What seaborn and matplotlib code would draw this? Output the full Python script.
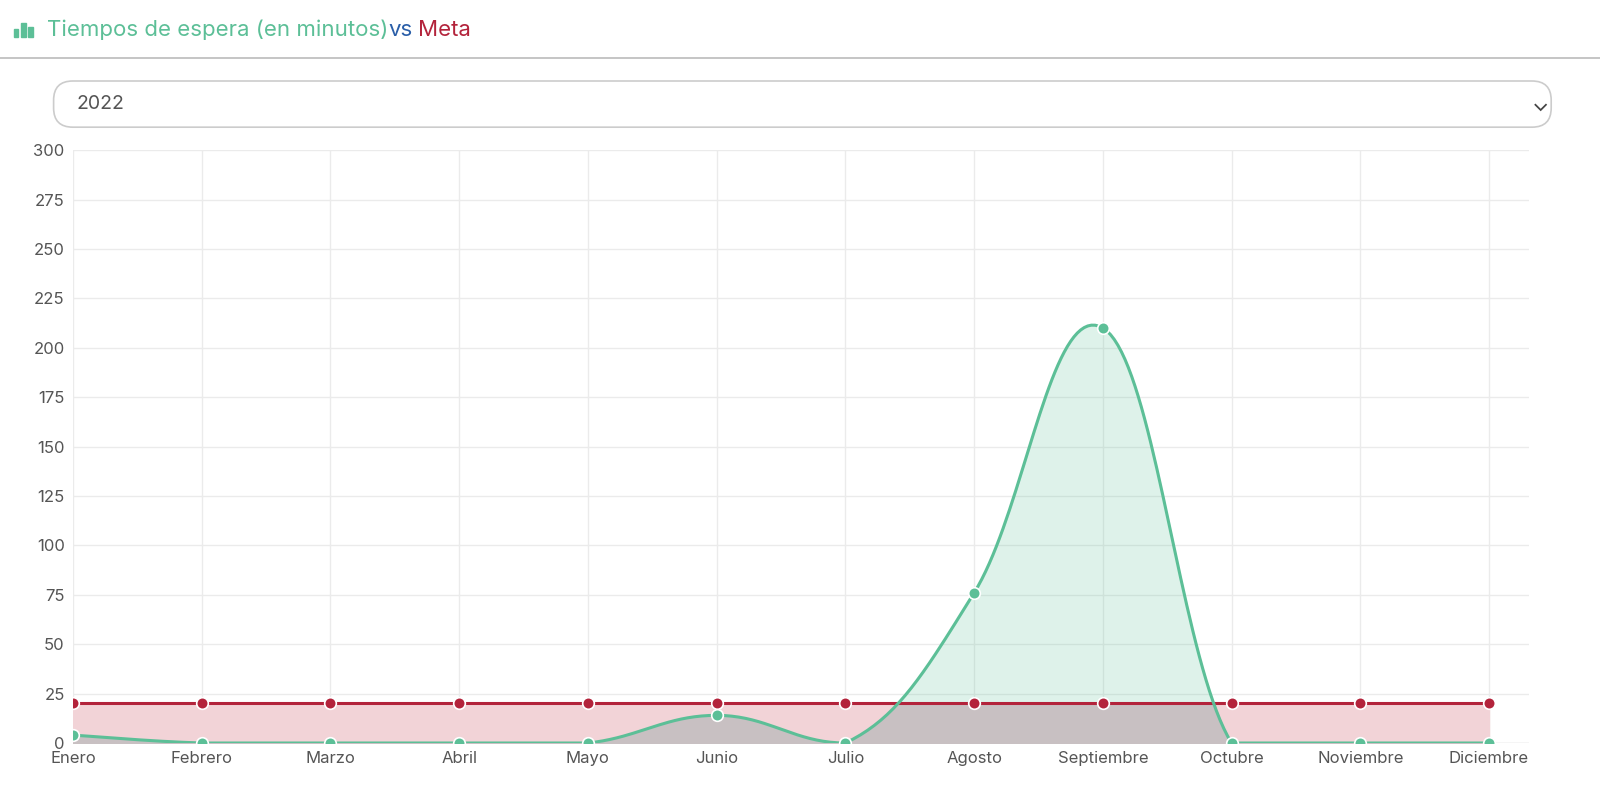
import numpy as np
import pandas as pd
import matplotlib
matplotlib.use('Agg')
import matplotlib.pyplot as plt
import seaborn as sns
from matplotlib.patches import FancyBboxPatch, Rectangle

meses = ['Enero', 'Febrero', 'Marzo', 'Abril', 'Mayo', 'Junio', 'Julio',
         'Agosto', 'Septiembre', 'Octubre', 'Noviembre', 'Diciembre']
tiempos = [4, 0, 0, 0, 0, 14, 0, 76, 210, 0, 0, 0]
meta = [20] * 12

VERDE = '#5cbf97'
ROJO = '#b3233b'


def curva_suave(y, tension=0.4, n=40):
    """Curva bezier estilo Chart.js (tension 0.4)"""
    x = np.arange(len(y), dtype=float)
    y = np.asarray(y, dtype=float)
    xs, ys = [], []
    for i in range(len(y) - 1):
        p0 = (x[i], y[i]); p3 = (x[i + 1], y[i + 1])
        prev = (x[i - 1], y[i - 1]) if i > 0 else p0
        nxt = (x[i + 2], y[i + 2]) if i + 2 < len(y) else p3
        c1 = (p0[0] + tension * (p3[0] - prev[0]) / 2, max(0, p0[1] + tension * (p3[1] - prev[1]) / 2))
        c2 = (p3[0] - tension * (nxt[0] - p0[0]) / 2, max(0, p3[1] - tension * (nxt[1] - p0[1]) / 2))
        t = np.linspace(0, 1, n)
        bx = (1-t)**3*p0[0] + 3*(1-t)**2*t*c1[0] + 3*(1-t)*t**2*c2[0] + t**3*p3[0]
        by = (1-t)**3*p0[1] + 3*(1-t)**2*t*c1[1] + 3*(1-t)*t**2*c2[1] + t**3*p3[1]
        xs.extend(bx); ys.extend(by)
    return np.array(xs), np.clip(np.array(ys), 0, None)


sns.set_theme(style='white')
plt.rcParams['font.family'] = ['Inter', 'DejaVu Sans']

fig = plt.figure(figsize=(16, 8.1), dpi=100)
ax = fig.add_axes([0.0456, 0.0827, 0.91, 0.732])

sx, sy = curva_suave(tiempos)
df_suave = pd.DataFrame({'x': sx, 'y': sy})
df_meta = pd.DataFrame({'x': np.arange(12), 'y': meta})

ax.fill_between(df_meta['x'], df_meta['y'], 0, color='#f2d3d7', zorder=1)
ax.fill_between(df_suave['x'], df_suave['y'], 0, color=VERDE, alpha=0.2, zorder=2)
ax.fill_between(df_suave['x'], np.minimum(df_suave['y'], 20), 0, color='#c8c0c2', zorder=2)

sns.lineplot(data=df_meta, x='x', y='y', color=ROJO, lw=2.2, ax=ax, zorder=3)
sns.lineplot(data=df_suave, x='x', y='y', color=VERDE, lw=2.2, ax=ax, zorder=4, sort=False)
ax.scatter(np.arange(12), meta, s=70, color=ROJO, edgecolor='white', lw=1.2, zorder=5)
ax.scatter(np.arange(12), tiempos, s=70, color=VERDE, edgecolor='white', lw=1.2, zorder=6)

ax.set_xlim(0, 11.31)
ax.set_ylim(0, 300)
ax.set_xticks(range(12))
ax.set_xticklabels(meses, fontsize=12, color='#555555')
ax.set_yticks(range(0, 301, 25))
ax.set_yticklabels([str(v) for v in range(0, 301, 25)], fontsize=12, color='#555555')
ax.tick_params(axis='both', length=0, pad=6)
ax.grid(True, color='#ebebeb', lw=1)
ax.set_xlabel('')
ax.set_ylabel('')
for s in ax.spines.values():
    s.set_visible(False)
ax.axhline(0, color='#dddddd', lw=1, zorder=0)

# encabezado
for i, h in enumerate([0.010, 0.018, 0.013]):
    fig.patches.append(Rectangle((0.0085 + i * 0.0045, 0.954), 0.003, h,
                                 transform=fig.transFigure, color=VERDE))
fig.text(0.0295, 0.963, 'Tiempos de espera (en minutos)', color=VERDE, fontsize=16, va='center')
fig.text(0.2425, 0.963, 'vs', color='#2a5ea8', fontsize=16, va='center')
fig.text(0.2615, 0.963, 'Meta', color=ROJO, fontsize=16, va='center')
fig.add_artist(plt.Line2D([0, 1], [0.929, 0.929], color='#bbbbbb', lw=1.2))

caja = FancyBboxPatch((0.0335, 0.843), 0.936, 0.057, boxstyle='round,pad=0,rounding_size=0.012',
                      transform=fig.transFigure, fc='white', ec='#cccccc', lw=1.2,
                      mutation_aspect=1.98)
fig.patches.append(caja)
fig.text(0.048, 0.871, '2022', fontsize=14, color='#555555', va='center')
fig.text(0.9625, 0.871, '⌄', fontsize=16, color='#444444', va='center', ha='center')

fig.savefig('out.png', dpi=100)
